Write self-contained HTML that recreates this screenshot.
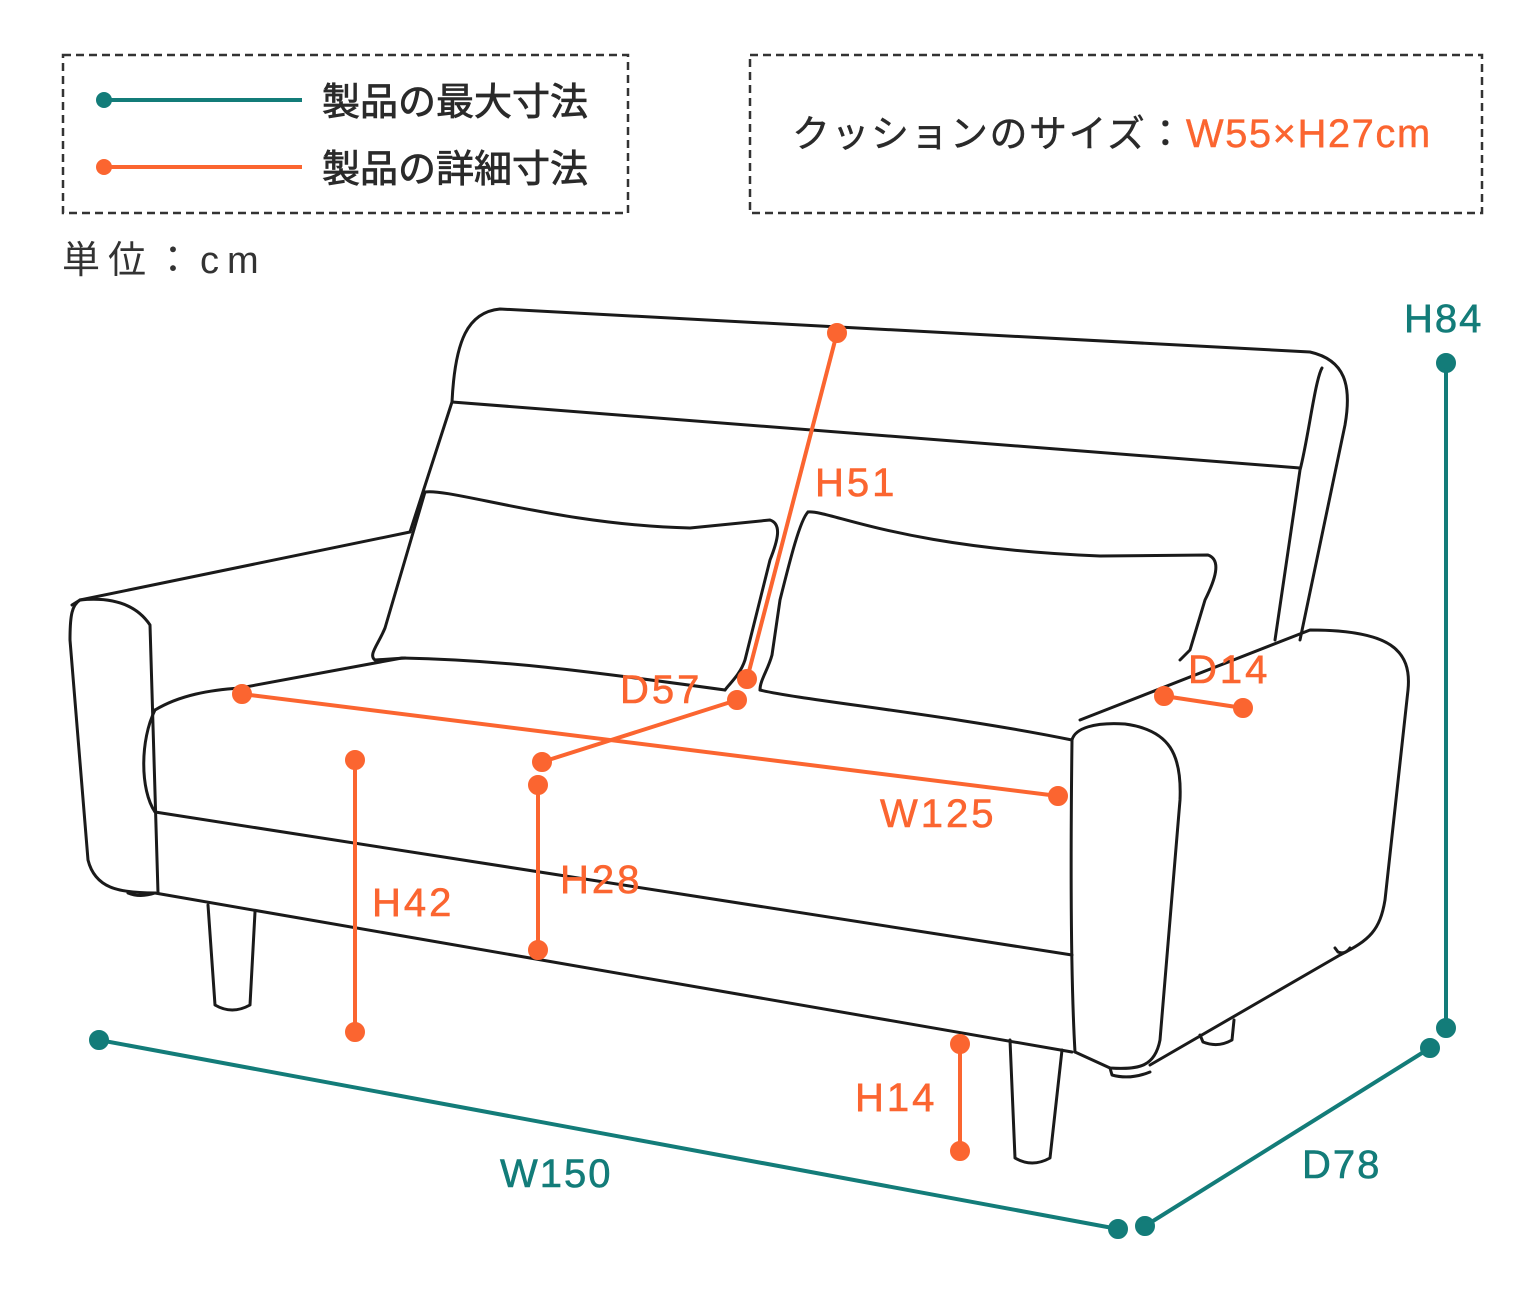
<!DOCTYPE html>
<html><head><meta charset="utf-8"><style>
html,body{margin:0;padding:0;background:#fff}
svg{display:block}
text{font-family:"Liberation Sans","Noto Sans CJK JP",sans-serif}
</style></head><body>
<svg width="1536" height="1299" viewBox="0 0 1536 1299" xmlns="http://www.w3.org/2000/svg">
<rect x="63" y="55" width="565" height="158" fill="none" stroke="#333" stroke-width="2.5" stroke-dasharray="8,5"/>
<rect x="750" y="55" width="732" height="158" fill="none" stroke="#333" stroke-width="2.5" stroke-dasharray="8,5"/>
<line x1="104" y1="100" x2="302" y2="100" stroke="#137c79" stroke-width="4"/>
<circle cx="104" cy="100" r="8" fill="#137c79"/>
<line x1="104" y1="167" x2="302" y2="167" stroke="#fb6530" stroke-width="4"/>
<circle cx="104" cy="167" r="8" fill="#fb6530"/>
<text x="322" y="115" font-size="38" fill="#2a2a2a" stroke="#2a2a2a" stroke-width="0.8">製品の最大寸法</text>
<text x="322" y="182" font-size="38" fill="#2a2a2a" stroke="#2a2a2a" stroke-width="0.8">製品の詳細寸法</text>
<text x="62" y="273" font-size="38" fill="#333" letter-spacing="8">単位：cm</text>
<text x="792" y="147" font-size="38" fill="#2a2a2a" letter-spacing="1.5" stroke="#2a2a2a" stroke-width="0.4">クッションのサイズ：<tspan fill="#fb6530" stroke="#fb6530" font-size="40">W55×H27cm</tspan></text>

<g fill="none" stroke="#1a1a1a" stroke-width="3" stroke-linejoin="round" stroke-linecap="round">
<path d="M410,532 L452,402 C455,340 468,312 500,309 L1310,352 C1345,360 1352,385 1345,425 L1300,640"/>
<path d="M1322,368 C1315,380 1308,440 1300,470 L1275,640"/>
<path d="M452,402 L1300,468"/>
<path d="M72,605 L80,600 L410,532"/>
<path d="M80,600 C72,605 70,615 70,640 L88,860 C95,888 118,893 155,893"/>
<path d="M80,600 Q130,595 150,625 L158,893"/>
<path d="M128,893 Q140,898 155,893"/>
<path d="M425,492 C450,488 560,525 690,528 L770,520 C782,524 778,540 770,560 L745,660 C740,675 730,683 725,690"/>
<path d="M425,492 L385,628 C378,645 368,655 375,660 L405,658"/>
<path d="M808,512 C830,510 900,548 1100,556 L1208,555 C1222,560 1215,580 1205,600 L1190,650 L1180,660"/>
<path d="M808,512 C800,520 790,560 780,600 L772,655 C768,670 760,680 760,690"/>
<path d="M155,710 C180,695 210,690 240,688 L402,658 C500,660 580,670 725,690"/>
<path d="M760,690 C800,700 950,715 1072,740"/>
<path d="M155,710 C140,740 140,790 155,812 L1072,955"/>
<path d="M155,893 L1072,1052"/>
<path d="M1075,1052 C1072,1000 1070,900 1072,740 C1075,728 1095,722 1125,724 C1170,730 1182,755 1180,800 L1160,1040 C1155,1066 1140,1070 1110,1068 L1075,1052"/>
<path d="M1080,720 L1310,630 C1390,630 1412,650 1408,690 L1385,900 C1380,930 1370,940 1340,955 L1150,1065"/>
<path d="M1110,1068 L1112,1075 Q1130,1080 1150,1072"/>
<path d="M208,905 L215,1005 Q232,1015 250,1005 L255,912"/>
<path d="M1010,1040 L1015,1158 Q1032,1168 1050,1158 L1062,1050"/>
<path d="M1200,1035 L1203,1042 Q1218,1048 1232,1040 L1234,1020"/>
<path d="M1335,948 L1338,952 Q1345,955 1350,948"/>
</g>

<g stroke="#fb6530" stroke-width="4" fill="#fb6530">
<line x1="837" y1="333" x2="747" y2="679"/><circle cx="837" cy="333" r="8"/><circle cx="747" cy="679" r="8"/>
<line x1="242" y1="694" x2="1058" y2="796"/><circle cx="242" cy="694" r="8"/><circle cx="1058" cy="796" r="8"/>
<line x1="737" y1="700" x2="542" y2="762"/><circle cx="737" cy="700" r="8"/><circle cx="542" cy="762" r="8"/>
<line x1="355" y1="760" x2="355" y2="1032"/><circle cx="355" cy="760" r="8"/><circle cx="355" cy="1032" r="8"/>
<line x1="538" y1="785" x2="538" y2="950"/><circle cx="538" cy="785" r="8"/><circle cx="538" cy="950" r="8"/>
<line x1="1164" y1="696" x2="1243" y2="708"/><circle cx="1164" cy="696" r="8"/><circle cx="1243" cy="708" r="8"/>
<line x1="960" y1="1044" x2="960" y2="1151"/><circle cx="960" cy="1044" r="8"/><circle cx="960" cy="1151" r="8"/>
</g>
<g fill="#fb6530" font-size="40" letter-spacing="3" stroke="#fb6530" stroke-width="0.6">
<text x="815" y="496">H51</text>
<text x="620" y="703">D57</text>
<text x="1188" y="683">D14</text>
<text x="880" y="827">W125</text>
<text x="560" y="893">H28</text>
<text x="372" y="916">H42</text>
<text x="855" y="1111">H14</text>
</g>

<g stroke="#137c79" stroke-width="4" fill="#137c79">
<line x1="1446" y1="363" x2="1446" y2="1028"/><circle cx="1446" cy="363" r="8"/><circle cx="1446" cy="1028" r="8"/>
<line x1="99" y1="1040" x2="1118" y2="1229"/><circle cx="99" cy="1040" r="8"/><circle cx="1118" cy="1229" r="8"/>
<line x1="1145" y1="1226" x2="1430" y2="1048"/><circle cx="1145" cy="1226" r="8"/><circle cx="1430" cy="1048" r="8"/>
</g>
<g fill="#137c79" font-size="40" letter-spacing="2" stroke="#137c79" stroke-width="0.6">
<text x="1404" y="332">H84</text>
<text x="500" y="1187">W150</text>
<text x="1302" y="1178">D78</text>
</g>
</svg>
</body></html>
